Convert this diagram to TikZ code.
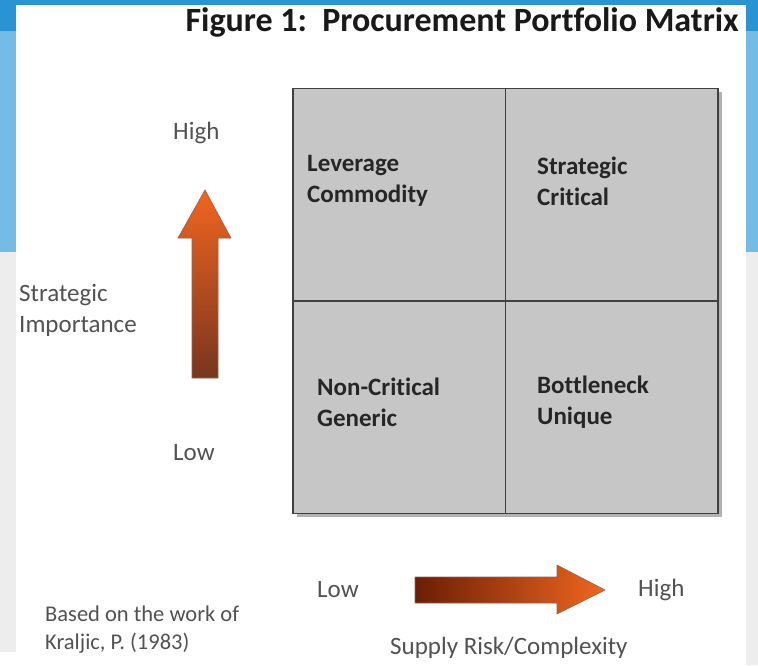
\documentclass[tikz,border=0pt]{standalone}
\usepackage{fontspec}
\setmainfont{Carlito}[Ligatures=NoCommon]
\usepackage{tikz}
\usetikzlibrary{calc}
\definecolor{barblue}{HTML}{2A93D4}
\definecolor{paleblue}{HTML}{74BBE6}
\definecolor{sidegray}{HTML}{EDEDED}
\definecolor{cellgray}{HTML}{C6C6C6}
\definecolor{rustdark}{HTML}{6A1E06}
\definecolor{rustmid}{HTML}{D9571B}
\definecolor{rustlight}{HTML}{F0661F}
\tikzset{
cell/.style={draw=black!75, line width=1.5pt, fill=cellgray, minimum width=212.5pt, minimum height=212.5pt, inner sep=0pt},
celltext/.style={font=\fontsize{25}{31}\selectfont\bfseries, text=black!85, align=left, anchor=west, inner sep=0pt},
axistext/.style={font=\fontsize{25}{31}\selectfont, text=black!68, align=left, anchor=west, inner sep=0pt}
}
\def\drawBackdrop{
\fill[sidegray] (0,252) rectangle (758,652);
\fill[sidegray] (746,652) rectangle (758,665);
\fill[paleblue] (0,31) rectangle (758,252);
\fill[barblue] (0,0) rectangle (758,31);
\fill[white] (16,5) rectangle (746,665);
}
\begin{document}
\begin{tikzpicture}[x=1pt,y=-1pt]
\useasboundingbox (0,0) rectangle (758,665);
\drawBackdrop
\node[font=\fontsize{34}{40}\selectfont\bfseries, text=black!90, anchor=east, inner sep=0pt] (title) at (739,22) {Figure 1:\ \ Procurement Portfolio Matrix};
\fill[black!30] (297,92) rectangle (722,517);
\node[cell] (leverage) at (399.25,194.75) {};
\node[cell] (strategic) at (611.75,194.75) {};
\node[cell] (noncritical) at (399.25,407.25) {};
\node[cell] (bottleneck) at (611.75,407.25) {};
\node[celltext] (levtext) at (307,181) {Leverage\\Commodity};
\node[celltext] (strattext) at (537,181) {Strategic\\Critical};
\node[celltext] (nontext) at (317,402) {Non-Critical\\Generic};
\node[celltext] (bottext) at (537,402) {Bottleneck\\Unique};
\shade[top color=rustlight, middle color=rustmid, bottom color=rustdark!90, draw=rustdark!70, line width=0.6pt] (192,378) -- (192,238) -- (178,238) -- (205,190) -- (231,238) -- (218,238) -- (218,378) -- cycle;
\shade[left color=rustdark, middle color=rustmid, right color=rustlight, draw=rustdark!70, line width=0.6pt] (415,577) -- (557,577) -- (557,565) -- (605,590) -- (557,614) -- (557,603) -- (415,603) -- cycle;
\node[axistext] (highup) at (173,133) {High};
\node[axistext] (lowup) at (173,453) {Low};
\node[axistext] (importance) at (19,310) {Strategic\\Importance};
\node[axistext] (lowright) at (317,590) {Low};
\node[axistext] (highright) at (638,590) {High};
\node[axistext] (supply) at (390,648) {Supply Risk/Complexity};
\node[axistext, font=\fontsize{22.5}{28}\selectfont] (source) at (45,630) {Based on the work of\\Kraljic, P. (1983)};
\end{tikzpicture}
\end{document}
